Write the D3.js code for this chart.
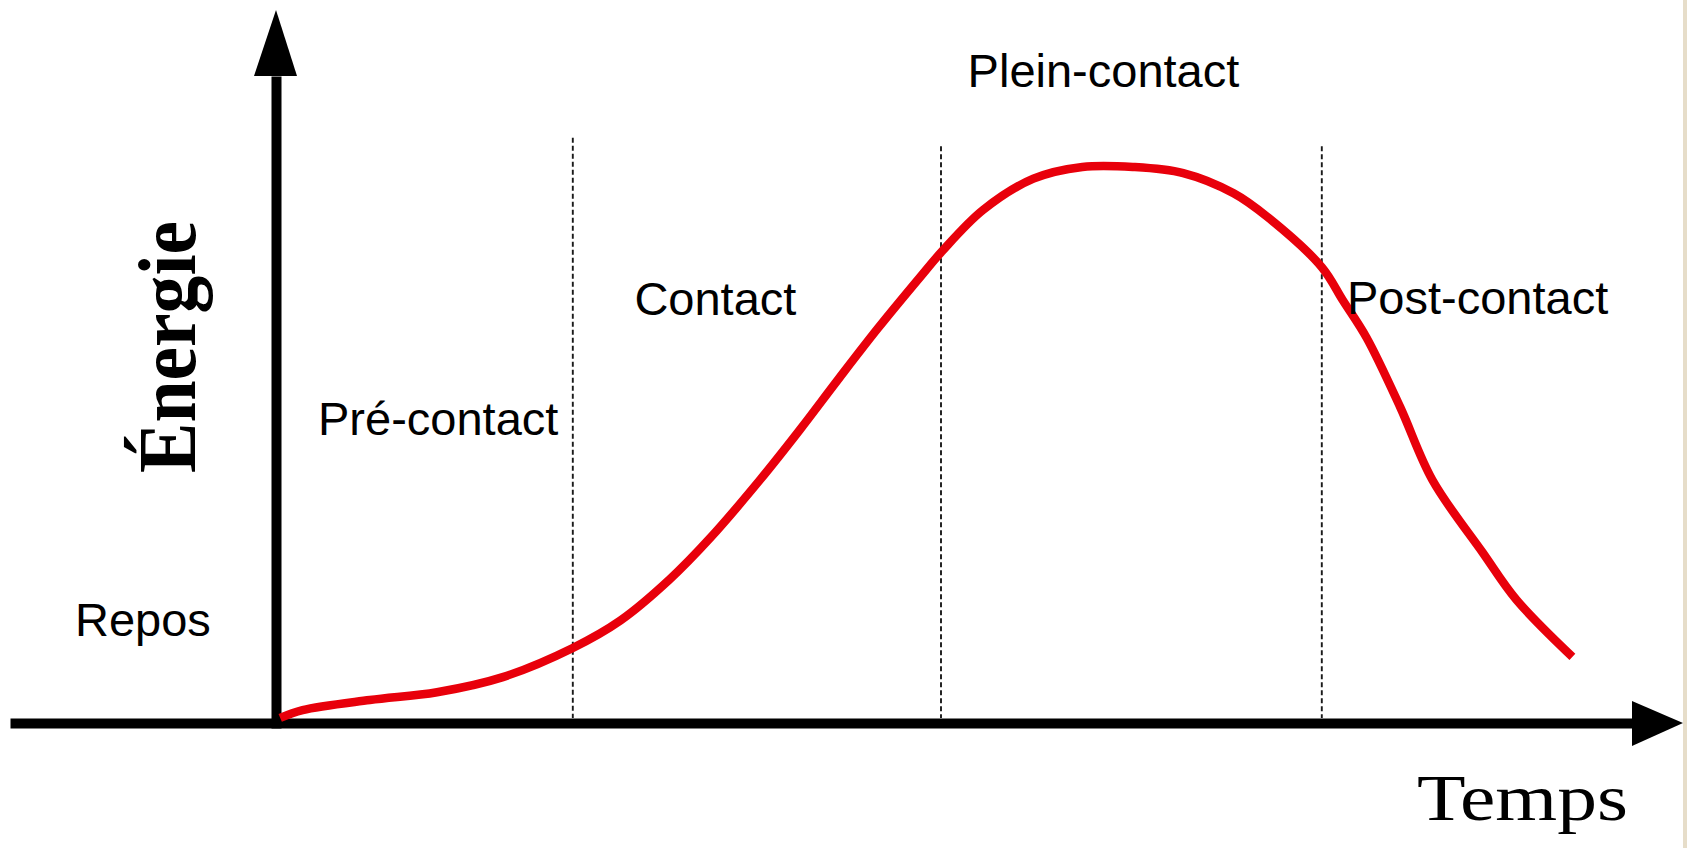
<!DOCTYPE html>
<html>
<head>
<meta charset="utf-8">
<script src="https://cdn.jsdelivr.net/npm/d3@7"></script>
<style>
  html, body { margin: 0; padding: 0; background: #ffffff; overflow: hidden; }
  svg { display: block; }
</style>
</head>
<body>
<svg id="chart" width="1687" height="848"></svg>
<script>
// ---------- data ----------
const time   = [0.3, 1.9, 6.7, 11.5, 16.2, 21.2, 24.6, 28.1, 31.0, 34.6, 37.4, 40.2, 43.0, 46.0, 47.6, 50.5, 54.1, 57.6, 61.2, 64.8, 68.4, 70.8, 74.7, 76.2, 77.9, 80.3, 82.6, 86.2, 88.6, 92.6];
const energy = [0.9, 2.3, 4.1, 5.5, 8.2, 13.4, 18.3, 25.6, 33.0, 43.5, 52.3, 61.5, 70.5, 79.6, 84.3, 91.6, 97.2, 99.3, 99.3, 98.2, 94.6, 90.4, 81.4, 75.5, 68.8, 56.4, 43.4, 30.4, 22.0, 11.8];
const phaseBoundaries = [21.2, 47.5, 74.7];
const phaseLabels = ["Repos", "Pré-contact", "Contact", "Plein-contact", "Post-contact"];
const yAxisTitle = "Énergie";
const xAxisTitle = "Temps";

// ---------- layout ----------
const W = 1687, H = 848;
const x = d3.scaleLinear().domain([0, 100]).range([276, 1676]);
const y = d3.scaleLinear().domain([0, 100]).range([723, 163]);
const boundaryTops = [104.5, 103, 103];
const labelPos = [[-14.36, 15.5], [3.0, 51.4], [25.6, 72.9], [49.4, 113.6], [76.5, 73.0]];

const svg = d3.select("#chart");
svg.append("rect").attr("width", W).attr("height", H).attr("fill", "#ffffff");
svg.append("rect").attr("x", 1683).attr("y", 0).attr("width", 4).attr("height", H).attr("fill", "#e6ddc9");

// dashed phase boundaries
svg.append("g").selectAll("line").data(phaseBoundaries).join("line")
  .attr("x1", d => x(d)).attr("x2", d => x(d))
  .attr("y1", (d, i) => y(boundaryTops[i])).attr("y2", y(0) - 5)
  .attr("stroke", "#1a1a1a").attr("stroke-width", 1.9).attr("stroke-dasharray", "5,3");

// axes (no ticks), thick black domain lines
const xAxisScale = x.copy().domain([x.invert(10), x.invert(1634)]).range([10, 1634]);
const gx = svg.append("g").attr("transform", `translate(0,${y(0)})`)
  .call(d3.axisBottom(xAxisScale).tickValues([]).tickSizeOuter(0));
gx.select(".domain").attr("stroke", "#000").attr("stroke-width", 10);

const yAxisScale = y.copy().domain([0, y.invert(76)]).range([y(0) + 5, 76]);
const gy = svg.append("g").attr("transform", `translate(${x(0)},0)`)
  .call(d3.axisLeft(yAxisScale).tickValues([]).tickSizeOuter(0));
gy.select(".domain").attr("stroke", "#000").attr("stroke-width", 10);

// arrowheads
const ax0 = x(0), ay0 = y(0);
svg.append("path").attr("fill", "#000")
  .attr("d", `M${ax0},10 L${ax0 + 21},76 L${ax0 - 22},76 Z`);
svg.append("path").attr("fill", "#000")
  .attr("d", `M1683,${ay0} L1632,${ay0 - 22} L1632,${ay0 + 23} Z`);

// energy curve
const line = d3.line()
  .x(d => x(d[0])).y(d => y(d[1]))
  .curve(d3.curveCatmullRom.alpha(0.5));
svg.append("path")
  .datum(time.map((t, i) => [t, energy[i]]))
  .attr("d", line)
  .attr("fill", "none")
  .attr("stroke", "#e8000b")
  .attr("stroke-width", 8.5)
  .attr("stroke-linejoin", "round");

// phase labels
svg.append("g").selectAll("text").data(phaseLabels).join("text")
  .attr("x", (d, i) => x(labelPos[i][0]))
  .attr("y", (d, i) => y(labelPos[i][1]))
  .attr("font-family", "'Liberation Sans', Arial, sans-serif")
  .attr("font-size", 47)
  .attr("fill", "#000")
  .text(d => d);

// axis titles
svg.append("text")
  .attr("transform", "translate(195,473) rotate(-90)")
  .attr("font-family", "'Liberation Serif', 'Times New Roman', serif")
  .attr("font-weight", "bold")
  .attr("font-size", 82)
  .attr("textLength", 252)
  .attr("lengthAdjust", "spacingAndGlyphs")
  .attr("fill", "#000")
  .text(yAxisTitle);

svg.append("text")
  .attr("x", 1417).attr("y", 820)
  .attr("font-family", "'Liberation Serif', 'Times New Roman', serif")
  .attr("font-size", 65)
  .attr("textLength", 211)
  .attr("lengthAdjust", "spacingAndGlyphs")
  .attr("fill", "#000")
  .text(xAxisTitle);
</script>
</body>
</html>
